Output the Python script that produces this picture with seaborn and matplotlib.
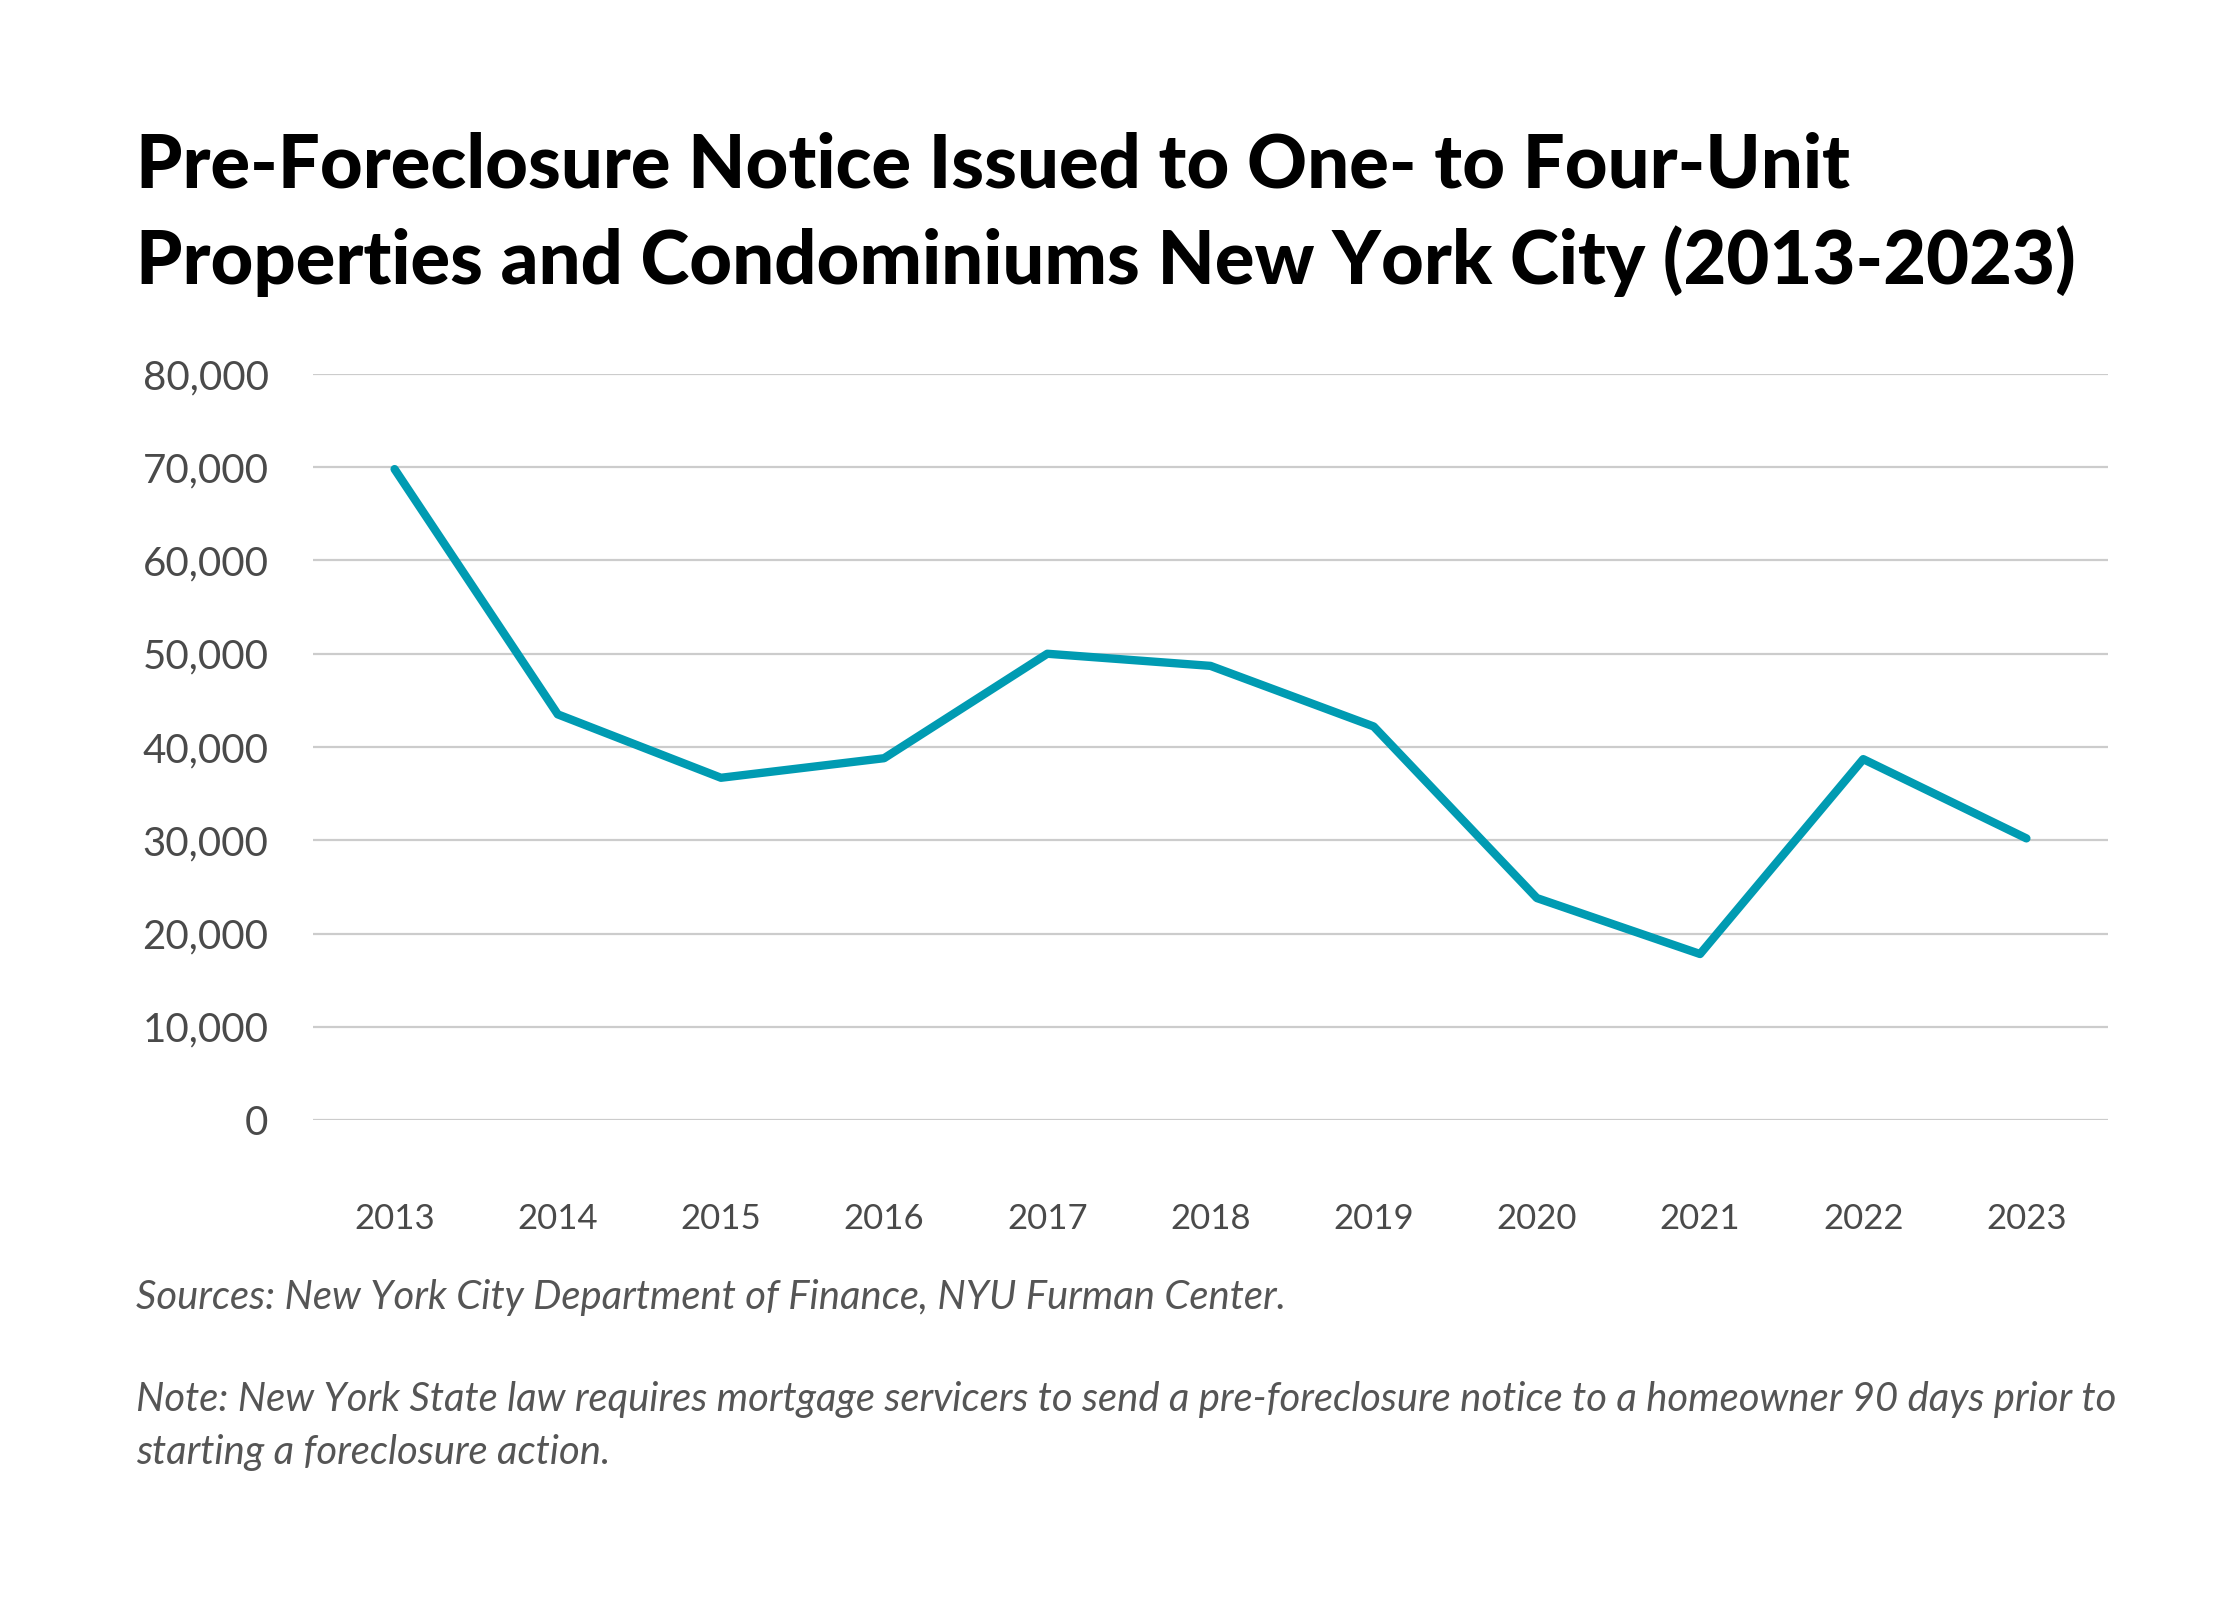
import matplotlib
matplotlib.use("Agg")
import matplotlib.pyplot as plt
import matplotlib.ticker as mticker
import seaborn as sns
import pandas as pd

# data
years = ["2013", "2014", "2015", "2016", "2017", "2018", "2019", "2020", "2021", "2022", "2023"]
notices = [69800, 43500, 36700, 38800, 50000, 48700, 42200, 23800, 17800, 38700, 30200]
y_ticks = [0, 10000, 20000, 30000, 40000, 50000, 60000, 70000, 80000]

title_1 = "Pre-Foreclosure Notice Issued to One- to Four-Unit"
title_2 = "Properties and Condominiums New York City (2013-2023)"
source_txt = "Sources: New York City Department of Finance, NYU Furman Center."
note_1 = "Note: New York State law requires mortgage servicers to send a pre-foreclosure notice to a homeowner 90 days prior to"
note_2 = "starting a foreclosure action."

df = pd.DataFrame({"year": years, "notices": notices})

sns.set_theme(style="white")
plt.rcParams["font.family"] = ["Lato", "DejaVu Sans"]

W, H = 2240, 1600
fig = plt.figure(figsize=(11.2, 8), dpi=200)
ax = fig.add_axes([313 / W, 1 - 1120 / H, (2108 - 313) / W, (1120 - 374) / H])

sns.lineplot(data=df, x="year", y="notices", ax=ax, color="#009BB2",
             linewidth=3.0, sort=False)

ax.set_xlim(-0.5, len(years) - 0.5)
ax.set_ylim(0, 80000)
ax.set_yticks(y_ticks)
ax.yaxis.set_major_formatter(mticker.FuncFormatter(lambda v, p: f"{int(v):,}"))
ax.grid(axis="y", color="#CCCCCC", linewidth=0.8)
ax.grid(axis="x", visible=False)
for s in ax.spines.values():
    s.set_visible(False)
ax.tick_params(axis="y", length=0, pad=16, labelsize=14.5, labelcolor="#4A4A4A")
ax.tick_params(axis="x", length=0, pad=30, labelsize=12.5, labelcolor="#4A4A4A")
ax.set_xlabel("")
ax.set_ylabel("")

tx = 136 / W
fig.text(tx, 1 - 188 / H, title_1, fontsize=26.7, fontweight="black", color="#000000", va="baseline")
fig.text(tx, 1 - 284 / H, title_2, fontsize=26.7, fontweight="black", color="#000000", va="baseline")

fig.text(tx, 1 - 1309 / H, source_txt, fontsize=14.4, style="italic", color="#555555", va="baseline")
fig.text(tx, 1 - 1411 / H, note_1, fontsize=14.4, style="italic", color="#555555", va="baseline")
fig.text(tx, 1 - 1464 / H, note_2, fontsize=14.4, style="italic", color="#555555", va="baseline")

fig.savefig("out.png", dpi=200, facecolor="white")
